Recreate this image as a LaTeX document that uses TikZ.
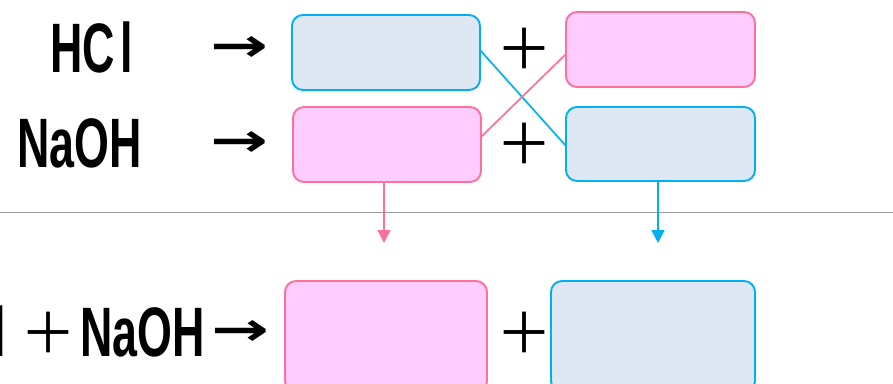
\documentclass[tikz,border=0pt]{standalone}
\usepackage{fontspec}
\usepackage{graphicx}
\usetikzlibrary{arrows.meta}
\newfontfamily\gfont[FakeStretch=0.64]{Liberation Sans}
\newfontfamily\afont{DejaVu Sans}
\newfontfamily\cjk{Noto Sans CJK JP}
\definecolor{bstroke}{HTML}{00B0F0}
\definecolor{bfill}{HTML}{DDE8F4}
\definecolor{pstroke}{HTML}{FF6F9C}
\definecolor{pfill}{HTML}{FFCCFF}
\newcommand{\rarr}{\resizebox{58pt}{25pt}{\afont\bfseries →}}
\tikzset{
  bbox/.style={draw=bstroke, fill=bfill, line width=1.9pt, rounded corners=11pt},
  pbox/.style={draw=pstroke, fill=pfill, line width=1.9pt, rounded corners=11pt},
  chem/.style={inner sep=0pt, font=\gfont\bfseries\fontsize{70}{70}\selectfont},
  plus/.style={inner sep=0pt, font=\cjk\fontsize{56}{56}\selectfont},
  arr/.style={inner sep=0pt},
  bline/.style={draw=bstroke, line width=1.7pt},
  pline/.style={draw=pstroke, line width=1.7pt},
}
\begin{document}
\begin{tikzpicture}[x=1pt,y=-1pt]
\useasboundingbox (0,0) rectangle (893,383);
\begin{scope}
\clip (0,0) rectangle (893,383);
% top-left boxes
\path[bbox] (292,15) rectangle (480,90);
\path[pbox] (293,107) rectangle (481,182);
% top-right boxes
\path[pbox] (566,12) rectangle (755,87);
\path[bbox] (566,107) rectangle (755,181);
% crossing lines
\coordinate (bs) at (480,50);
\coordinate (be) at (566,146);
\coordinate (ps) at (481,137);
\coordinate (pe) at (566,54);
\draw[bline] (bs) -- (be);
\draw[pline] (ps) -- (pe);
% labels
\node[chem, anchor=base west] (hcl) at (50,72) {HC\hspace{6pt}l};
\node[chem, anchor=base west] (naoh) at (17,167) {NaOH};
\node[arr] (a1) at (239,49) {\rarr};
\node[arr] (a2) at (239,144) {\rarr};
\node[plus] (pl1) at (524,49) {＋};
\node[plus] (pl2) at (524,144) {＋};
% separator
\coordinate (sl) at (0,212);
\coordinate (sr) at (893,212);
\draw[draw=black!40, line width=1pt] (sl) -- (sr);
% down arrows
\coordinate (pa0) at (384,182);
\coordinate (pa1) at (384,243);
\coordinate (ba0) at (658,181);
\coordinate (ba1) at (658,243);
\draw[pline, -{Triangle[width=13pt,length=13pt]}] (pa0) -- (pa1);
\draw[bline, -{Triangle[width=13pt,length=13pt]}] (ba0) -- (ba1);
% bottom boxes
\path[pbox] (285,281) rectangle (487,392);
\path[bbox] (551,281) rectangle (755,392);
% bottom equation
\node[chem, anchor=base east] (bl) at (6,356) {HC\hspace{6pt}l};
\node[plus] (bpl) at (48,333) {＋};
\node[chem, anchor=base west] (bnaoh) at (80,356) {NaOH};
\node[arr] (ba) at (240,333) {\rarr};
\node[plus] (bpl2) at (524,333) {＋};
\end{scope}
\end{tikzpicture}
\end{document}
